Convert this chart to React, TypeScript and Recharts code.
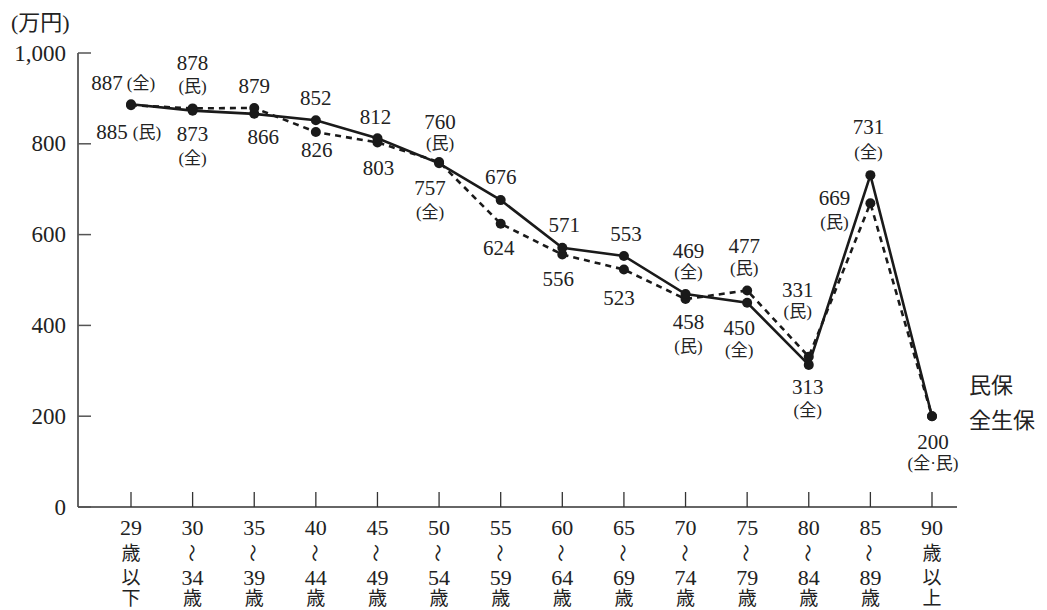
import React from "react";
import { LineChart, Line, XAxis, YAxis, LabelList } from "recharts";

// ---- data ----
const categoryRows: string[][] = [
  ["29", "歳", "以", "下"],
  ["30", "〜", "34", "歳"],
  ["35", "〜", "39", "歳"],
  ["40", "〜", "44", "歳"],
  ["45", "〜", "49", "歳"],
  ["50", "〜", "54", "歳"],
  ["55", "〜", "59", "歳"],
  ["60", "〜", "64", "歳"],
  ["65", "〜", "69", "歳"],
  ["70", "〜", "74", "歳"],
  ["75", "〜", "79", "歳"],
  ["80", "〜", "84", "歳"],
  ["85", "〜", "89", "歳"],
  ["90", "歳", "以", "上"],
];
const zenValues = [887, 873, 866, 852, 812, 757, 676, 571, 553, 469, 450, 313, 731, 200];
const minValues = [885, 878, 879, 826, 803, 760, 624, 556, 523, 458, 477, 331, 669, 200];
const zenTags = ["(全)", "(全)", "", "", "", "(全)", "", "", "", "(全)", "(全)", "(全)", "(全)", "(全·民)"];
const minTags = ["(民)", "(民)", "", "", "", "(民)", "", "", "", "(民)", "(民)", "(民)", "(民)", ""];
const minShown = [true, true, true, true, true, true, true, true, true, true, true, true, true, false];
const yTicks = [0, 200, 400, 600, 800, 1000];
const legendNames = ["民保", "全生保"];

// label offsets relative to each point: [numDx, numDy, tagDx, tagDy]
const zenLabelPos: number[][] = [
  [-24, -21, 10, -21],
  [0, 23, 0, 48],
  [9, 23, 0, 0],
  [0, -22, 0, 0],
  [-2, -21, 0, 0],
  [-9, 25, -9, 49],
  [0, -23, 0, 0],
  [2, -23, 0, 0],
  [2, -22, 0, 0],
  [3, -43, 3, -22],
  [-8, 25, -8, 48],
  [-1, 22, -1, 46],
  [-2, -48, -2, -23],
  [1, 26, 1, 47],
];
const minLabelPos: number[][] = [
  [-19, 27, 16, 27],
  [0, -45, 0, -22],
  [0, -22, 0, 0],
  [1, 18, 0, 0],
  [1, 26, 0, 0],
  [1, -40, 1, -18],
  [-2, 24, 0, 0],
  [-4, 24, 0, 0],
  [-5, 28, 0, 0],
  [3, 23, 3, 47],
  [-3, -44, -3, -22],
  [-11, -67, -11, -45],
  [-36, -5, -36, 19],
  [0, 0, 0, 0],
];
// vertical offsets of the stacked tick-label rows below the axis
const rowOffsets = [20, 46, 70, 91];

const data = categoryRows.map((rows, i) => ({
  cat: rows.join(""),
  zen: zenValues[i],
  min: minValues[i],
}));

const SERIF = "'Liberation Serif', 'Noto Sans CJK JP', serif";
const TEXT = "#222";

const fmt = (v: number) => v.toLocaleString("en-US");

const YTick = (props: any) => {
  const { x, y, payload } = props;
  return (
    <g>
      <line x1={x} x2={x + 13} y1={y} y2={y} stroke="#555" strokeWidth={1.5} />
      <text
        x={x - 12}
        y={y}
        textAnchor="end"
        dominantBaseline="central"
        fontFamily={SERIF}
        fontSize={23}
        fill={TEXT}
      >
        {fmt(payload.value)}
      </text>
    </g>
  );
};

const isDigits = (s: string) => /^[0-9]+$/.test(s);

const XTick = (props: any) => {
  const { x, y, index } = props;
  const rows = categoryRows[index] || [];
  return (
    <g>
      <line x1={x} x2={x} y1={y} y2={y - 15} stroke="#333" strokeWidth={1.3} />
      {rows.map((r, i) => {
        const ty = y + rowOffsets[i];
        if (r === "〜") {
          return (
            <text
              key={i}
              x={x}
              y={ty}
              textAnchor="middle"
              dominantBaseline="central"
              fontFamily="'Noto Sans CJK JP', sans-serif"
              fontSize={18}
              fill={TEXT}
              transform={`rotate(90 ${x} ${ty})`}
            >
              {r}
            </text>
          );
        }
        return (
          <text
            key={i}
            x={x}
            y={ty}
            textAnchor="middle"
            dominantBaseline="central"
            fontFamily={SERIF}
            fontSize={isDigits(r) ? 22 : 19}
            fill={TEXT}
          >
            {r}
          </text>
        );
      })}
    </g>
  );
};

const makeLabel = (values: number[], tags: string[], pos: number[][], shown?: boolean[]) =>
  (props: any) => {
    const { x, y, index } = props;
    if (shown && !shown[index]) return null;
    const p = pos[index];
    const tag = tags[index];
    return (
      <g>
        <text
          x={x + p[0]}
          y={y + p[1]}
          textAnchor="middle"
          dominantBaseline="central"
          fontFamily={SERIF}
          fontSize={21}
          fill={TEXT}
        >
          {values[index]}
        </text>
        {tag ? (
          <text
            x={x + p[2]}
            y={y + p[3]}
            textAnchor="middle"
            dominantBaseline="central"
            fontFamily={SERIF}
            fontSize={17}
            fill={TEXT}
          >
            {tag}
          </text>
        ) : null}
      </g>
    );
  };

export default function App() {
  return (
    <div style={{ position: "absolute", left: 0, top: 0, width: 1047, height: 610, background: "#fff" }}>
      <div
        style={{
          position: "absolute",
          left: 11,
          top: 9,
          fontFamily: SERIF,
          fontSize: 22,
          color: TEXT,
          lineHeight: "28px",
        }}
      >
        (万円)
      </div>
      <div
        style={{
          position: "absolute",
          left: 969,
          top: 366,
          fontFamily: "'Noto Sans CJK JP', sans-serif",
          fontSize: 22,
          color: TEXT,
          lineHeight: "35px",
          zIndex: 2,
        }}
      >
        {legendNames.map((n) => (
          <div key={n}>{n}</div>
        ))}
      </div>
      <LineChart
        width={1047}
        height={610}
        data={data}
        margin={{ top: 53, right: 90, bottom: 0, left: 0 }}
      >
        <XAxis
          dataKey="cat"
          interval={0}
          height={103}
          padding={{ left: 53, right: 25 }}
          tickSize={0}
          tickMargin={0}
          tick={<XTick />}
          axisLine={{ stroke: "#666", strokeWidth: 1.8 }}
          tickLine={false}
        />
        <YAxis
          width={78}
          domain={[0, 1000]}
          ticks={yTicks}
          type="number"
          tickSize={0}
          tickMargin={0}
          tick={<YTick />}
          axisLine={{ stroke: "#333", strokeWidth: 1.5 }}
          tickLine={false}
          interval={0}
        />
        <Line
          dataKey="min"
          name="民保"
          stroke="#1a1a1a"
          strokeWidth={2.6}
          strokeDasharray="6 5"
          dot={{ r: 5, fill: "#1a1a1a", stroke: "none" }}
          isAnimationActive={false}
        >
          <LabelList dataKey="min" content={makeLabel(minValues, minTags, minLabelPos, minShown)} />
        </Line>
        <Line
          dataKey="zen"
          name="全生保"
          stroke="#1a1a1a"
          strokeWidth={2.6}
          dot={{ r: 5, fill: "#1a1a1a", stroke: "none" }}
          isAnimationActive={false}
        >
          <LabelList dataKey="zen" content={makeLabel(zenValues, zenTags, zenLabelPos)} />
        </Line>
      </LineChart>
    </div>
  );
}
